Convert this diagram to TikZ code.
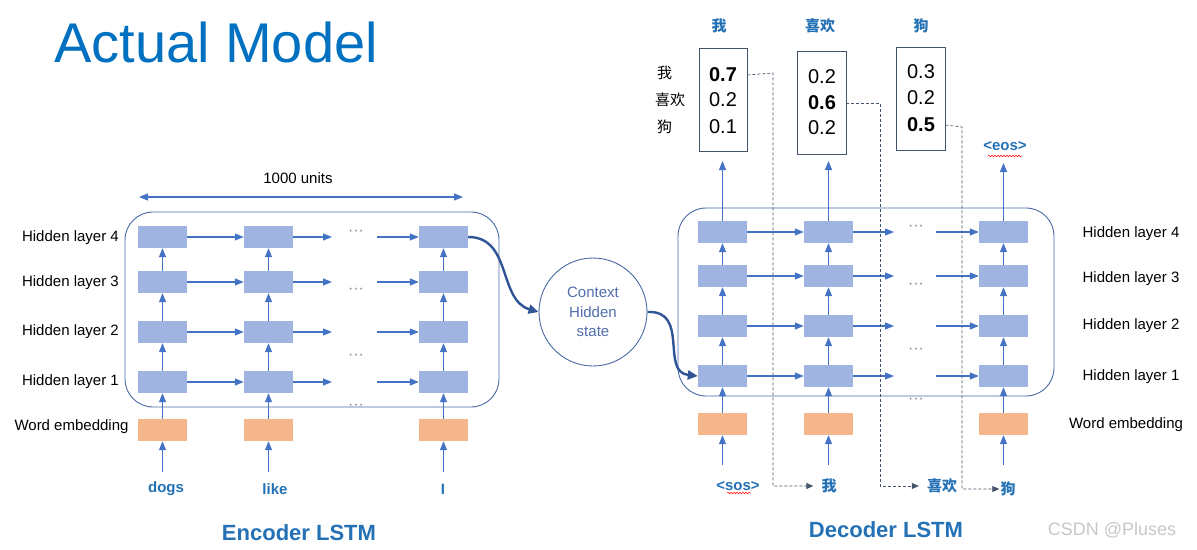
\documentclass[tikz,border=0pt]{standalone}
\usepackage{fontspec}
\setmainfont{Liberation Sans}
\newfontfamily\cjk{Noto Sans CJK SC}
\usetikzlibrary{arrows.meta,decorations.pathmorphing}
\definecolor{cellblue}{RGB}{160,180,225}
\definecolor{embor}{RGB}{245,182,140}
\definecolor{arrowblue}{RGB}{68,114,196}
\definecolor{frameblue}{RGB}{72,104,165}
\definecolor{curveblue}{RGB}{47,85,151}
\definecolor{dashgray}{RGB}{68,84,106}
\definecolor{titleblue}{RGB}{0,112,192}
\definecolor{wordblue}{RGB}{36,113,182}
\definecolor{ctxblue}{RGB}{80,110,170}
\begin{document}
\begin{tikzpicture}[x=1pt,y=-1pt,
  cell/.style={fill=cellblue,draw=none,minimum width=49pt,minimum height=22pt,inner sep=0pt},
  embcell/.style={fill=embor,draw=none,minimum width=49pt,minimum height=22pt,inner sep=0pt},
  arr/.style={draw=arrowblue,line width=1.1pt,-{Triangle[length=9pt,width=7pt]}},
  bigarr/.style={draw=curveblue,line width=2.4pt,-{Triangle[length=10pt,width=9pt]}},
  dasharr/.style={draw=dashgray,line width=0.7pt,dash pattern=on 3pt off 2pt,-{Triangle[length=7pt,width=6pt]}},
  frame/.style={draw=frameblue,line width=0.9pt,rounded corners=28pt,inner sep=0pt},
  obox/.style={draw=dashgray,line width=0.9pt,inner sep=0pt,minimum width=48pt,minimum height=103pt},
  lbl/.style={font=\fontsize{15}{18}\selectfont,inner sep=0pt},
  val/.style={font=\fontsize{20}{24}\selectfont,inner sep=0pt},
  bval/.style={font=\fontsize{20}{24}\selectfont\bfseries,inner sep=0pt},
  word/.style={font=\fontsize{15}{18}\selectfont\bfseries,text=wordblue,inner sep=0pt},
  cword/.style={font=\fontsize{15}{18}\selectfont\cjk\bfseries,text=wordblue,inner sep=0pt},
  dots/.style={font=\fontsize{16}{18}\selectfont,text=black!45,inner sep=0pt},
  wavy/.style={draw=red,line width=0.5pt,decorate,decoration={snake,amplitude=0.8pt,segment length=3pt}}
]
\useasboundingbox (0,0) rectangle (1197,549);

% title
\node[anchor=base west,text=titleblue,font=\fontsize{56}{60}\selectfont,inner sep=0pt] (title) at (54,62) {Actual Model};

% ---------------- Encoder ----------------
\node[frame,minimum width=374pt,minimum height=195pt] (eframe) at (312,309.5) {};
\foreach \c/\x in {1/162.5,2/268.5,3/443.5}{
  \foreach \r/\y in {4/237,3/282,2/332,1/382}{
    \node[cell] (e\c\r) at (\x,\y) {};
  }
  \node[embcell] (ee\c) at (\x,430) {};
  \coordinate (ein\c) at (\x,472);
  \draw[arr] (ein\c) -- (ee\c.south);
  \draw[arr] (ee\c.north) -- (e\c1.south);
  \draw[arr] (e\c1.north) -- (e\c2.south);
  \draw[arr] (e\c2.north) -- (e\c3.south);
  \draw[arr] (e\c3.north) -- (e\c4.south);
}
\foreach \r/\y in {4/237,3/282,2/332,1/382}{
  \coordinate (ea\r) at (332,\y);
  \coordinate (eb\r) at (377,\y);
  \draw[arr] (e1\r.east) -- (e2\r.west);
  \draw[arr] (e2\r.east) -- (ea\r);
  \draw[arr] (eb\r) -- (e3\r.west);
}
\node[dots] (ed4) at (356,233) {···};
\node[dots] (ed3) at (356,291) {···};
\node[dots] (ed2) at (356,357) {···};
\node[dots] (ed1) at (356,407) {···};

% encoder labels
\node[lbl,anchor=east] (el4) at (119,238) {Hidden layer 4};
\node[lbl,anchor=east] (el3) at (119,283) {Hidden layer 3};
\node[lbl,anchor=east] (el2) at (119,332) {Hidden layer 2};
\node[lbl,anchor=east] (el1) at (119,382) {Hidden layer 1};
\node[lbl] (ewe) at (71.5,427) {Word embedding};

% 1000 units
\node[lbl] (units) at (298,178) {1000 units};
\coordinate (ua) at (139,197);
\coordinate (ub) at (463,197);
\draw[draw=arrowblue,line width=1.1pt,{Triangle[length=9pt,width=7pt]}-{Triangle[length=9pt,width=7pt]}] (ua) -- (ub);

% inputs
\node[word] (wdogs) at (166,489) {dogs};
\node[word] (wlike) at (275,489) {like};
\node[word] (wI) at (443,489) {I};
\node[font=\fontsize{22}{26}\selectfont\bfseries,text=wordblue,inner sep=0pt] (enclbl) at (299,533) {Encoder LSTM};

% ---------------- Decoder ----------------
\node[frame,minimum width=376pt,minimum height=188pt] (dframe) at (866,302) {};
\foreach \c/\x in {1/722.5,2/828.5,3/1003.5}{
  \foreach \r/\y in {4/232,3/276,2/326,1/376}{
    \node[cell] (d\c\r) at (\x,\y) {};
  }
  \node[embcell] (de\c) at (\x,424) {};
  \coordinate (din\c) at (\x,465);
  \draw[arr] (din\c) -- (de\c.south);
  \draw[arr] (de\c.north) -- (d\c1.south);
  \draw[arr] (d\c1.north) -- (d\c2.south);
  \draw[arr] (d\c2.north) -- (d\c3.south);
  \draw[arr] (d\c3.north) -- (d\c4.south);
}
\foreach \r/\y in {4/232,3/276,2/326,1/376}{
  \coordinate (da\r) at (894,\y);
  \coordinate (db\r) at (936,\y);
  \draw[arr] (d1\r.east) -- (d2\r.west);
  \draw[arr] (d2\r.east) -- (da\r);
  \draw[arr] (db\r) -- (d3\r.west);
}
\node[dots] (dd4) at (916,228) {···};
\node[dots] (dd3) at (916,286) {···};
\node[dots] (dd2) at (916,351) {···};
\node[dots] (dd1) at (916,401) {···};

% ---------------- Context ----------------
\node[circle,draw=frameblue,line width=0.9pt,minimum size=108pt,inner sep=0pt,align=center,text=ctxblue,font=\fontsize{15}{19.5}\selectfont] (ctx) at (593,312) {Context\\Hidden\\state};
\draw[bigarr] (e34.east) .. controls (512,237) and (498,300) .. (ctx.west);
\draw[bigarr] (ctx.east) .. controls (690,310) and (660,372) .. (d11.west);

% decoder labels
\node[lbl] (dl4) at (1131,234) {Hidden layer 4};
\node[lbl] (dl3) at (1131,279) {Hidden layer 3};
\node[lbl] (dl2) at (1131,326) {Hidden layer 2};
\node[lbl] (dl1) at (1131,377) {Hidden layer 1};
\node[lbl] (dwe) at (1126,425) {Word embedding};

% output boxes
\node[obox,minimum width=48pt] (ob1) at (723,99.5) {};
\node[obox,minimum width=49pt] (ob2) at (821.5,102.5) {};
\node[obox,minimum width=49pt] (ob3) at (920.5,98.5) {};
\node[bval] (v11) at (723,75) {0.7};
\node[val] (v12) at (723,100) {0.2};
\node[val] (v13) at (723,127) {0.1};
\node[val] (v21) at (822,77) {0.2};
\node[bval] (v22) at (822,103) {0.6};
\node[val] (v23) at (822,128) {0.2};
\node[val] (v31) at (921,72) {0.3};
\node[val] (v32) at (921,98) {0.2};
\node[bval] (v33) at (921,125) {0.5};

% left vocabulary labels
\node[lbl,anchor=west,font=\fontsize{15}{18}\selectfont\cjk] (k1) at (657,73) {我};
\node[lbl,anchor=west,font=\fontsize{15}{18}\selectfont\cjk] (k2) at (655,100) {喜欢};
\node[lbl,anchor=west,font=\fontsize{15}{18}\selectfont\cjk] (k3) at (657,127) {狗};

% output words
\node[cword] (o1) at (719,26) {我};
\node[cword] (o2) at (820,26) {喜欢};
\node[cword] (o3) at (921,26) {狗};
\node[word] (eos) at (1005,146) {<eos>};
\draw[wavy] (988,156) -- (1022,156);

% output arrows
\coordinate (oa1) at (722.5,161);
\coordinate (oa2) at (828.5,161);
\coordinate (oa3) at (1003.5,163);
\draw[arr] (d14.north) -- (oa1);
\draw[arr] (d24.north) -- (oa2);
\draw[arr] (d34.north) -- (oa3);

% decoder inputs
\node[word] (sos) at (738,486) {<sos>};
\draw[wavy] (727,493) -- (751,493);
\node[cword] (i1) at (829,486) {我};
\node[cword] (i2) at (942,486) {喜欢};
\node[cword] (i3) at (1008,489) {狗};

% dashed feedback
\coordinate (f1a) at (773,73);
\coordinate (f1b) at (773,486);
\coordinate (f2a) at (880,103);
\coordinate (f2b) at (880,486);
\coordinate (f3a) at (962,127);
\coordinate (f3b) at (962,489);
\draw[dasharr] (ob1.east |- v11) -- (f1a) -- (f1b) -- ([xshift=-8pt]i1.west);
\draw[dasharr] (ob2.east |- v22) -- (f2a) -- (f2b) -- ([xshift=-8pt]i2.west);
\draw[dasharr] (ob3.east |- v33) -- (f3a) -- (f3b) -- ([xshift=-1pt]i3.west);

\node[font=\fontsize{22}{26}\selectfont\bfseries,text=wordblue,inner sep=0pt] (declbl) at (886,530) {Decoder LSTM};

% watermark
\node[font=\fontsize{18}{22}\selectfont,text=black!22,inner sep=0pt] (wm) at (1112,530) {CSDN @Pluses};
\end{tikzpicture}
\end{document}
